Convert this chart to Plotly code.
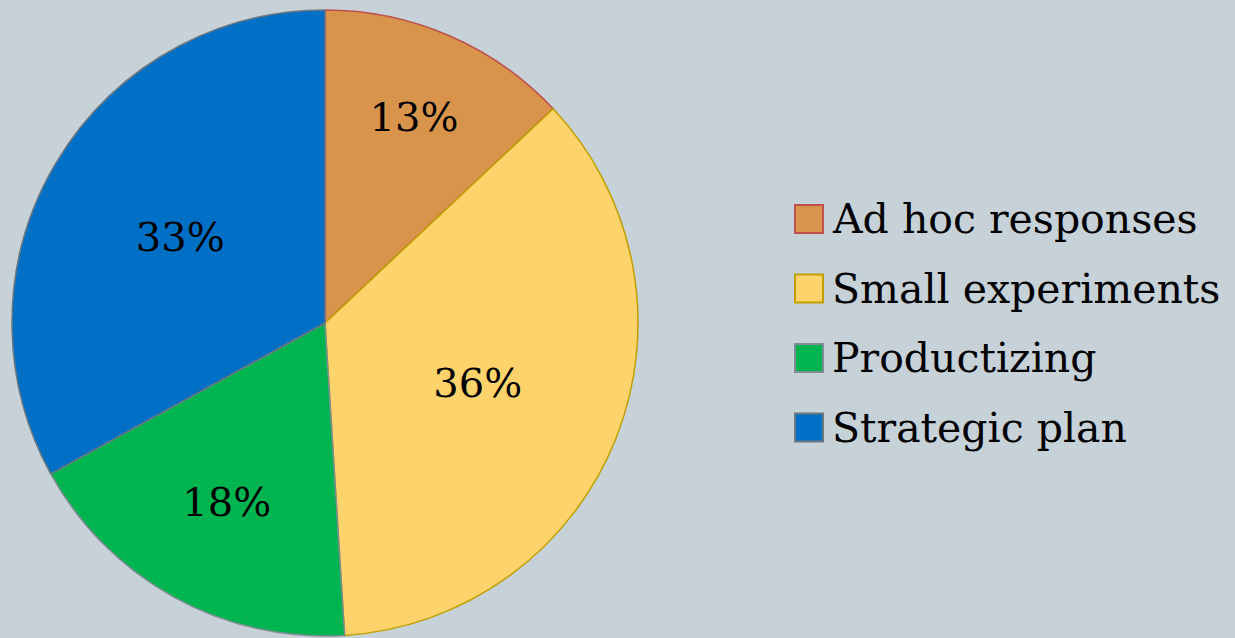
import plotly.graph_objects as go

# Share of approaches, clockwise from 12 o'clock
categories = ["Ad hoc responses", "Small experiments", "Productizing", "Strategic plan"]
shares = [13, 36, 18, 33]

fill_colors = ["#D9944C", "#FFD36B", "#00B450", "#0070C6"]
edge_colors = ["#C0504D", "#BFA000", "#7F8C93", "#6B7680"]

W, H = 1235, 638
BG = "#C6D1D8"
FONT = "Georgia, 'DejaVu Serif', serif"

fig = go.Figure()
fig.add_trace(go.Pie(
    labels=categories,
    values=shares,
    sort=False,
    direction="clockwise",
    rotation=0,
    marker=dict(colors=fill_colors, line=dict(color=edge_colors, width=1.5)),
    texttemplate="%{value}%",
    textposition="inside",
    insidetextorientation="horizontal",
    textfont=dict(family=FONT, size=40, color="#000000"),
    domain=dict(x=[12 / W, 638 / W], y=[2 / H, 628 / H]),
    showlegend=False,
    hoverinfo="label+percent",
))

# Legend: coloured squares with serif labels
sq = 28
x_sq = 795
x_txt = 830
y0, dy = 219, 69.5
shapes, annotations = [], []
for i, (name, fc, ec) in enumerate(zip(categories, fill_colors, edge_colors)):
    yc = y0 + i * dy
    shapes.append(dict(
        type="rect", xref="paper", yref="paper",
        x0=x_sq / W, x1=(x_sq + sq) / W,
        y0=1 - (yc + sq / 2) / H, y1=1 - (yc - sq / 2) / H,
        fillcolor=fc, line=dict(color=ec, width=2),
    ))
    annotations.append(dict(
        text=name, xref="paper", yref="paper",
        x=x_txt / W, y=1 - yc / H, xanchor="left", yanchor="middle",
        showarrow=False, font=dict(family=FONT, size=41, color="#000000"),
    ))

fig.update_layout(
    width=W, height=H,
    margin=dict(l=0, r=0, t=0, b=0),
    paper_bgcolor=BG, plot_bgcolor=BG,
    shapes=shapes, annotations=annotations,
)

fig.write_html("out.html")
